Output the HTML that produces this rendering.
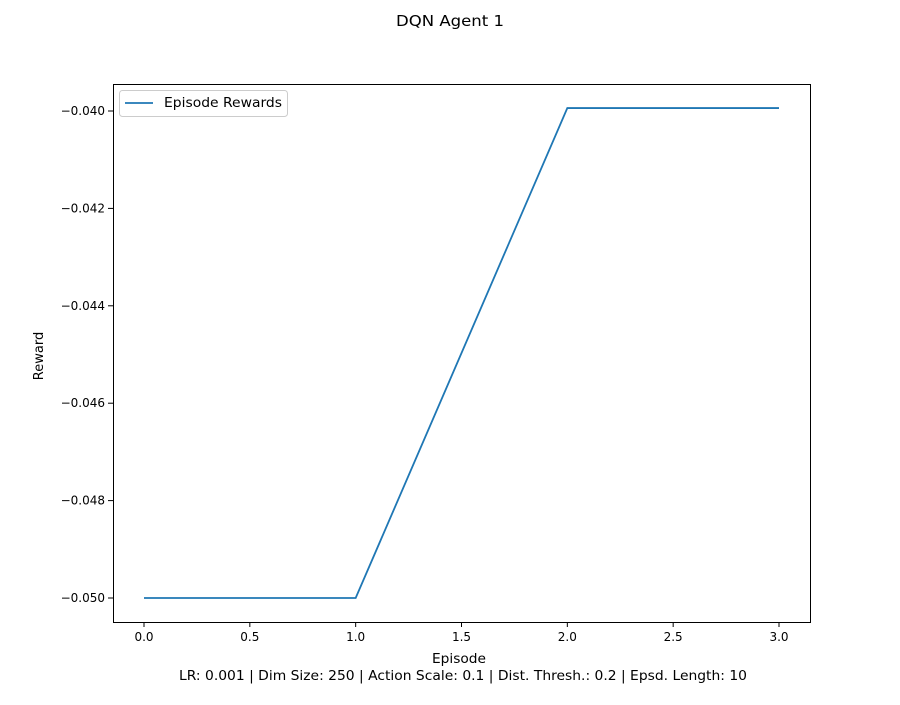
<!DOCTYPE html>
<html><head><meta charset="utf-8"><style>
body{margin:0;background:#fff;font-family:"Liberation Sans","DejaVu Sans",sans-serif;}
svg text{font-family:"DejaVu Sans","Liberation Sans",sans-serif;}
</style></head><body>
<svg id="chart" width="900" height="700" xmlns="http://www.w3.org/2000/svg">
<rect width="900" height="700" fill="#fff"/>
<text x="450" y="26" font-size="15" text-anchor="middle" textLength="108" lengthAdjust="spacingAndGlyphs">DQN Agent 1</text>
<g id="axes"></g>
<text x="459" y="663" font-size="13" text-anchor="middle" textLength="54" lengthAdjust="spacingAndGlyphs">Episode</text>
<text x="463" y="680" font-size="13.5" text-anchor="middle" textLength="568" lengthAdjust="spacingAndGlyphs">LR: 0.001 | Dim Size: 250 | Action Scale: 0.1 | Dist. Thresh.: 0.2 | Epsd. Length: 10</text>
<text x="43" y="356" font-size="13" text-anchor="middle" transform="rotate(-90 43 356)">Reward</text>
</svg>
<script>
const episodes=[0,1,2,3];
const rewards=[-0.05,-0.05,-0.03994,-0.03994];
const xTicks=[0,0.5,1,1.5,2,2.5,3];
const xTickLabels=["0.0","0.5","1.0","1.5","2.0","2.5","3.0"];
const yTicks=[-0.05,-0.048,-0.046,-0.044,-0.042,-0.04];
const yTickLabels=["\u22120.050","\u22120.048","\u22120.046","\u22120.044","\u22120.042","\u22120.040"];
const L=113,R=810,T=84,B=622;
const x=v=>144+(v-0)*(779-144)/3;
const y=v=>598+(v+0.05)*(111-598)/0.01;
const ns="http://www.w3.org/2000/svg";
const g=document.getElementById('axes');
function mk(t,a){const e=document.createElementNS(ns,t);for(const k in a)e.setAttribute(k,a[k]);g.appendChild(e);return e;}
xTicks.forEach((v,i)=>{
 const l=mk('line',{x1:x(v),x2:x(v),y1:B,y2:B+5,stroke:'#000','stroke-width':1});
 
 
 const t=mk('text',{x:x(v),y:B+19,'font-size':12,'text-anchor':'middle'});t.textContent=xTickLabels[i];
 
 
});
yTicks.forEach((v,i)=>{
 const l=mk('line',{x1:L-5,x2:L,y1:y(v),y2:y(v),stroke:'#000','stroke-width':1});
 
 
 const t=mk('text',{x:L-8,y:y(v)+4,'font-size':12,'text-anchor':'end'});t.textContent=yTickLabels[i];
 
 
});
const p=mk('polyline',{points:episodes.map((e,i)=>x(e)+','+y(rewards[i])).join(' '),fill:'none',stroke:'#1f77b4','stroke-width':1.8});


const f=mk('rect',{x:L+0.5,y:T+0.5,width:R-L,height:B-T,fill:'none',stroke:'#000','stroke-width':1});


const lg=mk('rect',{x:119.5,y:90.5,width:168,height:26,rx:3,fill:'#fff',stroke:'#ccc'});


const ll=mk('line',{x1:125,x2:153,y1:103,y2:103,stroke:'#1f77b4','stroke-width':1.8});


const lt=mk('text',{x:164,y:107,'font-size':13.5,textLength:118,lengthAdjust:'spacingAndGlyphs'});lt.textContent='Episode Rewards';


</script>
</body></html>
